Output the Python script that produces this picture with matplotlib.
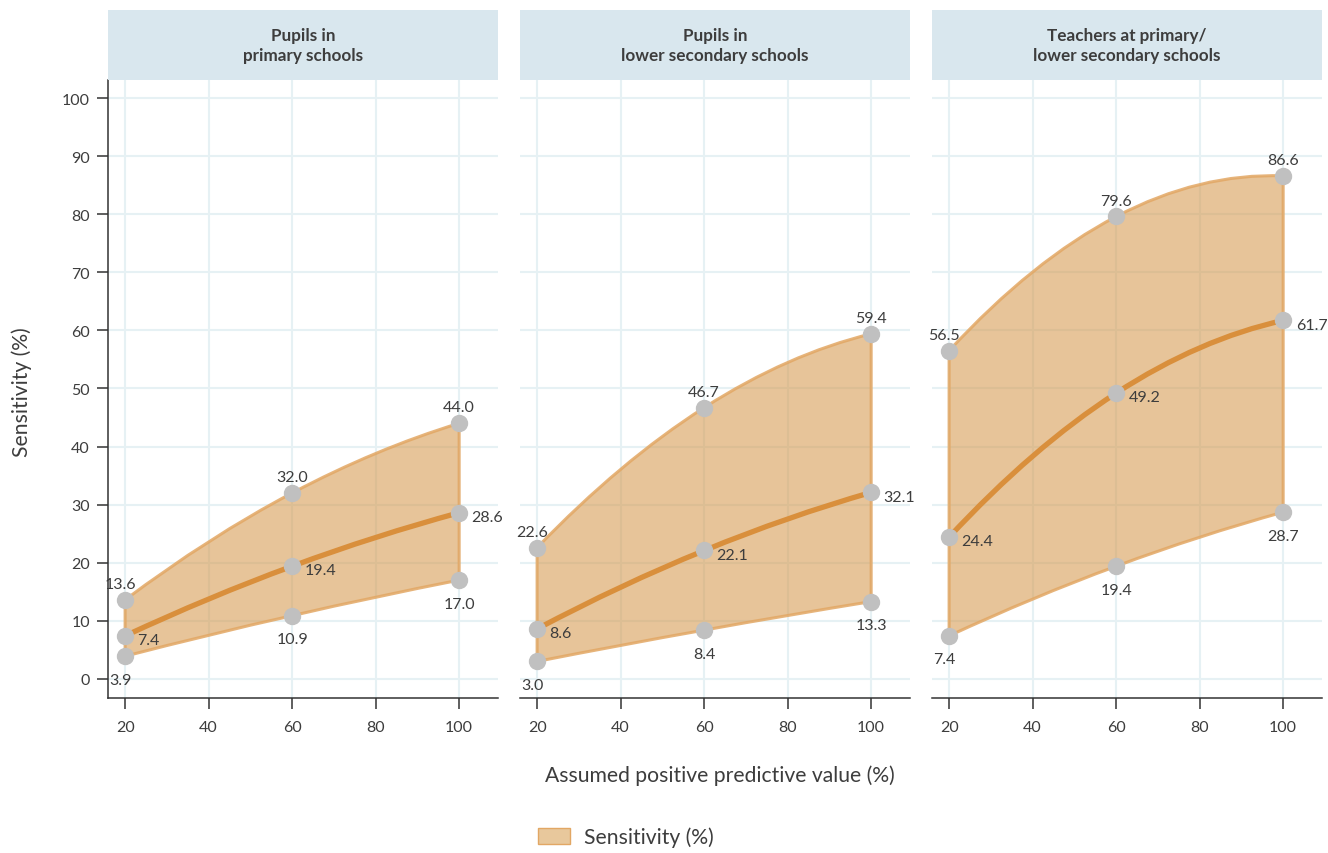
import matplotlib.pyplot as plt
from matplotlib.path import Path
from matplotlib.patches import PathPatch, Patch
import numpy as np

plt.rcParams['font.family'] = ['Lato', 'DejaVu Sans']

# Data
ppv = [20, 60, 100]
panel_titles = ['Pupils in\nprimary schools',
                'Pupils in\nlower secondary schools',
                'Teachers at primary/\nlower secondary schools']
upper = [[13.6, 32.0, 44.0], [22.6, 46.7, 59.4], [56.5, 79.6, 86.6]]
middle = [[7.4, 19.4, 28.6], [8.6, 22.1, 32.1], [24.4, 49.2, 61.7]]
lower = [[3.9, 10.9, 17.0], [3.0, 8.4, 13.3], [7.4, 19.4, 28.7]]

txt = '#3d3d3d'
fill_c = '#d49446'
edge_c = '#e2a764'
line_c = '#d98f3c'
pt_c = '#c0c0c0'
grid_c = '#e6f1f4'
strip_c = '#d9e7ee'


def bezier(xs, ys):
    # quadratic curve passing through the three points
    x0, x1, x2 = xs
    y0, y1, y2 = ys
    cx = 2 * x1 - (x0 + x2) / 2
    cy = 2 * y1 - (y0 + y2) / 2
    return [(x0, y0), (cx, cy), (x2, y2)]


fig = plt.figure(figsize=(13.28, 8.54), dpi=100)
lefts = [108, 520, 932]
W, H = 1328, 854
axes = []
for i in range(3):
    ax = fig.add_axes([lefts[i] / W, 1 - 699 / H, 390 / W, 618 / H])
    axes.append(ax)
    sax = fig.add_axes([lefts[i] / W, 1 - 81 / H, 390 / W, 70 / H])
    sax.set_facecolor(strip_c)
    sax.set_xticks([])
    sax.set_yticks([])
    for s in sax.spines.values():
        s.set_visible(False)
    sax.text(0.5, 0.5, panel_titles[i], ha='center', va='center',
             fontsize=12.3, fontweight='bold', color=txt, linespacing=1.35)

    ax.set_xlim(15.9, 109.3)
    ax.set_ylim(-3.3, 103.1)
    ax.set_xticks([20, 40, 60, 80, 100])
    ax.set_yticks(np.arange(0, 101, 10))
    ax.grid(True, color=grid_c, lw=1.5)
    ax.set_axisbelow(True)
    for s in ['top', 'right']:
        ax.spines[s].set_visible(False)
    ax.spines['bottom'].set_color('#333333')
    ax.spines['bottom'].set_linewidth(1.1)
    ax.tick_params(axis='x', length=8, width=1.1, color='#333333',
                   labelsize=11.5, labelcolor=txt, pad=8)
    if i == 0:
        ax.spines['left'].set_color('#333333')
        ax.spines['left'].set_linewidth(1.1)
        ax.tick_params(axis='y', length=8, width=1.1, color='#333333',
                       labelsize=11.5, labelcolor=txt, pad=5)
    else:
        ax.spines['left'].set_visible(False)
        ax.tick_params(axis='y', length=0, labelleft=False)

    up = bezier(ppv, upper[i])
    lo = bezier(ppv, lower[i])
    verts = up + [lo[2], lo[1], lo[0], up[0]]
    codes = [Path.MOVETO, Path.CURVE3, Path.CURVE3, Path.LINETO,
             Path.CURVE3, Path.CURVE3, Path.CLOSEPOLY]
    ax.add_patch(PathPatch(Path(verts, codes), facecolor=fill_c, alpha=0.55,
                           edgecolor='none', zorder=2))
    ax.add_patch(PathPatch(Path(verts, codes), facecolor='none',
                           edgecolor=edge_c, lw=2.2, alpha=0.85, zorder=3))
    mid = bezier(ppv, middle[i])
    ax.add_patch(PathPatch(Path(mid, [Path.MOVETO, Path.CURVE3, Path.CURVE3]),
                           facecolor='none', edgecolor=line_c, lw=3.8, zorder=4))

    for series in (upper[i], middle[i], lower[i]):
        ax.plot(ppv, series, 'o', color=pt_c, ms=11.5, zorder=5)

    for j, x in enumerate(ppv):
        dx = -3.6 if x == 20 else 0
        ax.annotate(f'{upper[i][j]:.1f}', (x, upper[i][j]), xytext=(dx, 11.5),
                    textcoords='offset points', ha='center', va='center',
                    fontsize=11.5, color=txt, zorder=6)
        ax.annotate(f'{lower[i][j]:.1f}', (x, lower[i][j]), xytext=(dx, -17),
                    textcoords='offset points', ha='center', va='center',
                    fontsize=11.5, color=txt, zorder=6)
        ax.annotate(f'{middle[i][j]:.1f}', (x, middle[i][j]), xytext=(9, -3),
                    textcoords='offset points', ha='left', va='center',
                    fontsize=11.5, color=txt, zorder=6)

fig.text(22 / W, 1 - 392 / H, 'Sensitivity (%)', rotation=90,
         ha='center', va='center', fontsize=15.2, color=txt)
fig.text(720 / W, 1 - 776 / H, 'Assumed positive predictive value (%)',
         ha='center', va='center', fontsize=15.2, color=txt)

fig.legend(handles=[Patch(facecolor='#e8c89c', edgecolor=edge_c, lw=1,
                          label='Sensitivity (%)')],
           loc='center left', bbox_to_anchor=(519 / W, 1 - 838 / H),
           frameon=False, fontsize=15.2, labelcolor=txt,
           handlelength=1.5, handleheight=0.8, handletextpad=0.7)

fig.savefig('out.png', dpi=100)
